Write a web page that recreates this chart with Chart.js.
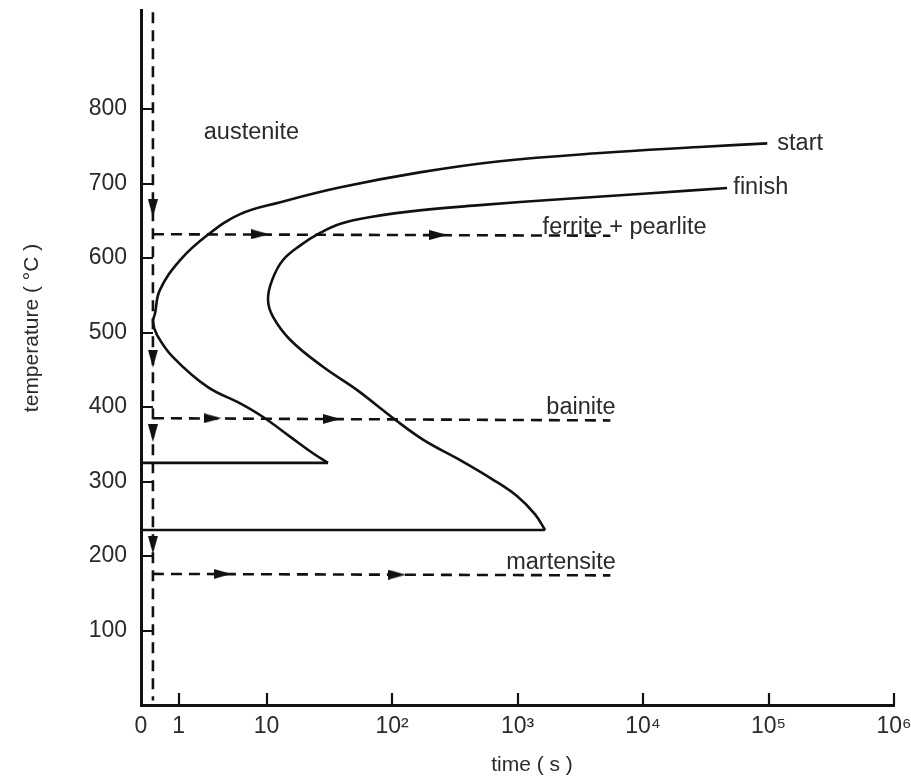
<!DOCTYPE html>
<html>
<head>
<meta charset="utf-8">
<title>TTT diagram</title>
<script src="https://cdn.jsdelivr.net/npm/chart.js@4.4.1/dist/chart.umd.min.js"></script>
<style>
    html, body { margin: 0; padding: 0; background: #fff; }
    #wrap { position: relative; width: 911px; height: 778px; }
</style>
</head>
<body>
<div id="wrap"><canvas id="ttt-chart"></canvas></div>
<script>
// time axis is log10(seconds); the "0" and "1" marks sit where the drawing puts them
const xTickPos = [0, 0.3, 1, 2, 3, 4, 5, 6];
const xTickLabels = ['0', '1', '10', '10²', '10³', '10⁴', '10⁵', '10⁶'];
const yTicks = [100, 200, 300, 400, 500, 600, 700, 800];

// transformation start curve (log10 s, °C), from the top right round the nose
const startLogT = [4.99, 4.45, 3.66, 2.86, 2.22, 1.59, 1.11, 0.79, 0.53, 0.31, 0.15, 0.112, 0.096, 0.127, 0.255, 0.53, 0.79, 0.97, 1.19, 1.37, 1.49];
const startTemp = [754, 749, 741, 730, 715, 695, 675, 659, 631, 597, 557, 526, 514, 497, 467, 427, 405, 387, 360, 338, 325];

// transformation finish curve
const finishLogT = [4.67, 4.06, 3.34, 2.70, 2.22, 1.83, 1.59, 1.43, 1.27, 1.13, 1.044, 1.012, 1.052, 1.19, 1.45, 1.72, 2.01, 2.25, 2.54, 2.80, 3.00, 3.14, 3.22];
const finishTemp = [694, 687, 679, 671, 664, 655, 646, 634, 617, 597, 570, 544, 521, 490, 454, 423, 385, 356, 329, 303, 280, 256, 235];

// cooling paths: quench at a fixed time, then hold at each temperature
const quenchLogT = 0.095;
const quenchTop = 930;
const quenchBottom = 6;
const holdTemp = [632, 385, 176];
const holdEndTemp = [630, 382, 174];
const holdEndLogT = 3.74;

// arrow heads along the paths
const rightArrowLogT = [0.95, 2.37, 0.57, 1.52, 0.65, 2.04];
const rightArrowTemp = [632, 631, 385, 384, 176, 175];
const downArrowTemp = [667, 465, 365, 215];

// region labels, anchored at their left end
const regionLabels = ['austenite', 'start', 'finish', 'ferrite + pearlite', 'bainite', 'martensite'];
const labelLogT = [0.50, 5.07, 4.72, 3.20, 3.23, 2.91];
const labelTemp = [768, 754, 695, 641, 399, 191];

const xMin = 0, xMax = 6, yMin = 0, yMax = 933;
const FONT = '"Liberation Sans", Arial, Helvetica, sans-serif';
const INK = '#111';
const TEXT = '#2a2a2a';

function pts(xs, ys) {
    return xs.map((x, i) => ({ x: x, y: ys[i] }));
}

// elongated arrow head used as point style
function arrowHead() {
    const c = document.createElement('canvas');
    c.width = 18;
    c.height = 10;
    const g = c.getContext('2d');
    g.fillStyle = INK;
    g.beginPath();
    g.moveTo(0, 0);
    g.lineTo(18, 5);
    g.lineTo(0, 10);
    g.closePath();
    g.fill();
    return c;
}
const arrow = arrowHead();

const datasets = [];
datasets.push({
    data: pts(startLogT, startTemp),
    borderColor: INK, borderWidth: 2.6, tension: 0.4, pointRadius: 0, showLine: true
});
datasets.push({
    data: [{ x: startLogT[startLogT.length - 1], y: startTemp[startTemp.length - 1] }, { x: xMin, y: startTemp[startTemp.length - 1] }],
    borderColor: INK, borderWidth: 2.6, pointRadius: 0, showLine: true
});
datasets.push({
    data: pts(finishLogT, finishTemp),
    borderColor: INK, borderWidth: 2.6, tension: 0.4, pointRadius: 0, showLine: true
});
datasets.push({
    data: [{ x: finishLogT[finishLogT.length - 1], y: finishTemp[finishTemp.length - 1] }, { x: xMin, y: finishTemp[finishTemp.length - 1] }],
    borderColor: INK, borderWidth: 2.6, pointRadius: 0, showLine: true
});
datasets.push({
    data: [{ x: quenchLogT, y: quenchTop }, { x: quenchLogT, y: quenchBottom }],
    borderColor: INK, borderWidth: 2.6, borderDash: [11, 7], pointRadius: 0, showLine: true
});
holdTemp.forEach((t, i) => {
    datasets.push({
        data: [{ x: quenchLogT, y: t }, { x: holdEndLogT, y: holdEndTemp[i] }],
        borderColor: INK, borderWidth: 2.6, borderDash: [11, 7], pointRadius: 0, showLine: true
    });
});
datasets.push({
    data: pts(rightArrowLogT, rightArrowTemp),
    showLine: false, pointStyle: arrow, pointRadius: 9, pointRotation: 0
});
datasets.push({
    data: downArrowTemp.map(t => ({ x: quenchLogT, y: t })),
    showLine: false, pointStyle: arrow, pointRadius: 9, pointRotation: 90
});

const decorations = {
    id: 'decorations',
    afterDraw(chart) {
        const ctx = chart.ctx;
        const xs = chart.scales.x, ys = chart.scales.y;
        const left = chart.chartArea.left, bottom = chart.chartArea.bottom;
        ctx.save();
        // inward tick marks
        ctx.strokeStyle = INK;
        ctx.lineWidth = 2.2;
        ctx.beginPath();
        yTicks.forEach(v => {
            const y = Math.round(ys.getPixelForValue(v));
            ctx.moveTo(left, y);
            ctx.lineTo(left + 12, y);
        });
        xTickPos.slice(1).forEach(v => {
            const x = Math.round(xs.getPixelForValue(v));
            ctx.moveTo(x, bottom);
            ctx.lineTo(x, bottom - 12);
        });
        ctx.stroke();

        // region labels
        ctx.fillStyle = TEXT;
        ctx.font = '23.5px ' + FONT;
        ctx.textAlign = 'left';
        ctx.textBaseline = 'middle';
        regionLabels.forEach((s, i) => {
            ctx.fillText(s, xs.getPixelForValue(labelLogT[i]), ys.getPixelForValue(labelTemp[i]));
        });

        // axis titles
        ctx.font = '21px ' + FONT;
        ctx.textAlign = 'center';
        ctx.fillText('time ( s )', 532, 765);
        ctx.translate(32, 328);
        ctx.rotate(-Math.PI / 2);
        ctx.fillText('temperature ( °C )', 0, 0);
        ctx.restore();
    }
};

function noPad(scale) {
    scale.paddingLeft = 0;
    scale.paddingRight = 0;
    scale.paddingTop = 0;
    scale.paddingBottom = 0;
}

new Chart(document.getElementById('ttt-chart').getContext('2d'), {
    type: 'scatter',
    data: { datasets },
    options: {
        responsive: true,
        maintainAspectRatio: false,
        animation: false,
        events: [],
        clip: false,
        layout: { padding: { left: 0, right: 17, top: 10, bottom: 0 } },
        plugins: { legend: { display: false }, tooltip: { enabled: false } },
        scales: {
            x: {
                type: 'linear',
                min: xMin,
                max: xMax,
                afterBuildTicks: scale => { scale.ticks = xTickPos.map(v => ({ value: v })); },
                afterFit: scale => { scale.height = 73; noPad(scale); },
                grid: { display: false, drawTicks: false },
                border: { display: true, color: INK, width: 3 },
                ticks: {
                    autoSkip: false,
                    maxRotation: 0,
                    padding: 8,
                    color: TEXT,
                    font: { family: FONT, size: 23 },
                    callback: (v, i) => xTickLabels[i]
                }
            },
            y: {
                type: 'linear',
                min: yMin,
                max: yMax,
                afterBuildTicks: scale => { scale.ticks = yTicks.map(v => ({ value: v })); },
                afterFit: scale => { scale.width = 141; noPad(scale); },
                grid: { display: false, drawTicks: false },
                border: { display: true, color: INK, width: 3 },
                ticks: {
                    padding: 14,
                    color: TEXT,
                    font: { family: FONT, size: 23 },
                    callback: v => String(v)
                }
            }
        }
    },
    plugins: [decorations]
});
</script>
</body>
</html>
